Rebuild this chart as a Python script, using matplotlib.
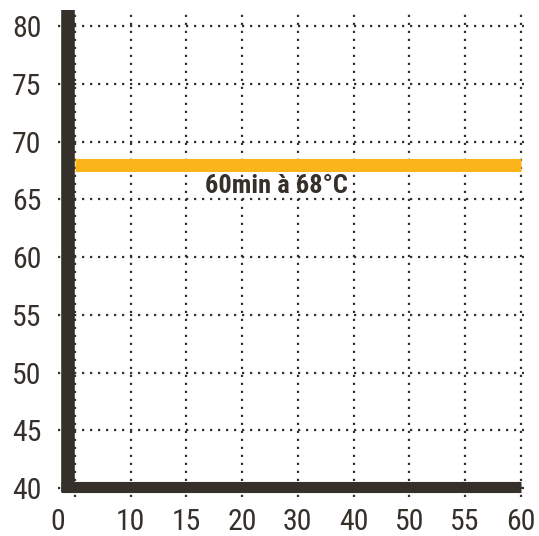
# Cooking chart: 60 min at 68 degC

import matplotlib.pyplot as plt
from matplotlib.transforms import ScaledTranslation

minutes = [0, 10, 15, 20, 30, 40, 50, 55, 60]
temps = [40, 45, 50, 55, 60, 65, 70, 75, 80]
line_minutes = [0, 60]
line_temp = [68, 68]
label = "60min à 68°C"

dark = "#35302a"
orange = "#fbb419"
plt.rcParams['font.family'] = ['Roboto Condensed', 'Barlow Condensed', 'Liberation Sans', 'DejaVu Sans']

fig = plt.figure(figsize=(5.39, 5.36), dpi=100)
ax = fig.add_axes([0.1076, 0.0728, 0.8646, 0.901])

pos = list(range(len(minutes)))
ax.set_xlim(-0.305, 8.06)
ax.set_ylim(39.22, 81.07)
ax.set_xticks(pos)
ax.set_xticklabels([str(m) for m in minutes])
ax.set_yticks(temps)
ax.set_yticklabels([str(t) for t in temps])

ax.grid(True, color=dark, linestyle=(0, (1, 2.6)), linewidth=1.6)
ax.set_axisbelow(True)
for s in ax.spines.values():
    s.set_visible(False)
ax.tick_params(length=0, labelsize=21.5, labelcolor=dark)
ax.tick_params(axis="y", pad=12)
ax.tick_params(axis="x", pad=8)

# shift the "0" label left, it sits under the axis line
lbl = ax.get_xticklabels()[0]
lbl.set_transform(lbl.get_transform() + ScaledTranslation(-17 / 100, 0, fig.dpi_scale_trans))

# thick axis lines
ax.plot([-0.126, -0.126], [39.65, 81.42], color=dark, linewidth=9.8,
        solid_capstyle="butt", clip_on=False, zorder=4)
ax.plot([-0.25, 8.0], [40.1, 40.1], color=dark, linewidth=8.0,
        solid_capstyle="butt", clip_on=False, zorder=4)

xs = [minutes.index(m) for m in line_minutes]
ax.plot(xs, line_temp, color=orange, linewidth=9.4, solid_capstyle="butt", zorder=3)
ax.text(3.61, 66.17, label, ha="center", va="center", fontsize=19,
        fontweight="bold", color=dark, zorder=5)

plt.savefig("out.png", dpi=100)
